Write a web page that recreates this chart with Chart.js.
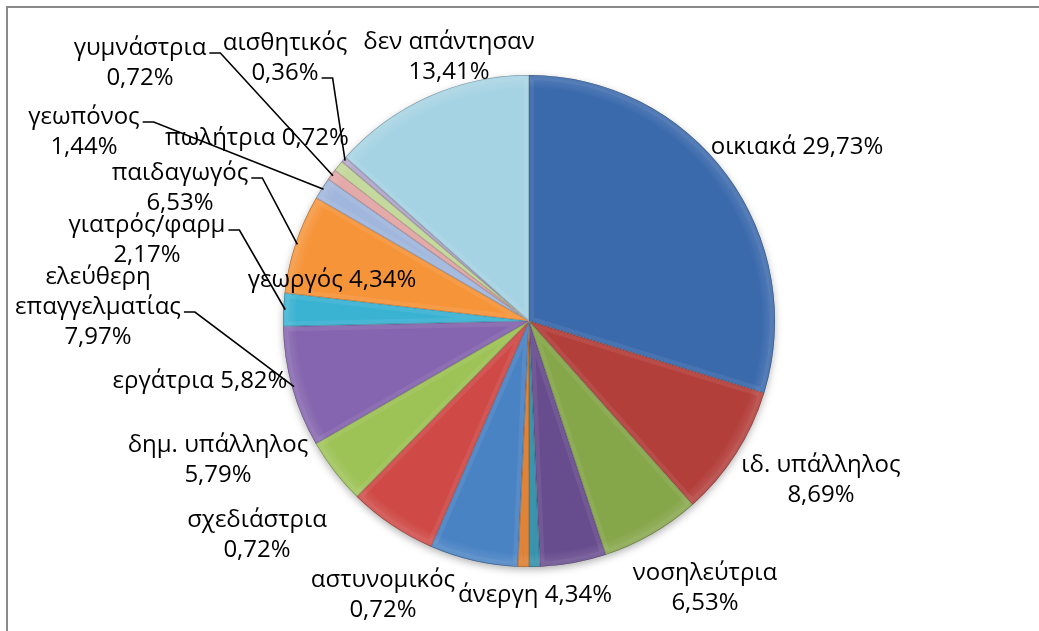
<!DOCTYPE html>
<html>
<head>
<meta charset="utf-8">
<script src="https://cdn.jsdelivr.net/npm/chart.js@4.4.0/dist/chart.umd.min.js"></script>
<style>
  html, body { margin: 0; padding: 0; background: #ffffff; }
  canvas { display: block; }
</style>
</head>
<body>
<canvas id="chart" width="1039" height="631"></canvas>
<script>
// Occupations, clockwise from 12 o'clock
const categories = [
  'οικιακά', 'ιδ. υπάλληλος', 'νοσηλεύτρια', 'άνεργη', 'αστυνομικός',
  'σχεδιάστρια', 'δημ. υπάλληλος', 'εργάτρια', 'γεωργός', 'ελεύθερη επαγγελματίας',
  'γιατρός/φαρμ', 'παιδαγωγός', 'γεωπόνος', 'γυμνάστρια', 'πωλήτρια',
  'αισθητικός', 'δεν απάντησαν'
];
// Share of respondents (%)
const percents = [
  29.73, 8.69, 6.53, 4.34, 0.72,
  0.72, 5.79, 5.82, 4.34, 7.97,
  2.17, 6.53, 1.44, 0.72, 0.72,
  0.36, 13.41
];

const sliceColors = [
  '#3A69AC', '#B33F3B', '#86A64A', '#684D8E', '#2D8CA7', '#DC7A28',
  '#4A83C4', '#CF4A46', '#9DC256', '#8565AF', '#3AB2D2', '#F6943A',
  '#A0B6DC', '#E2A4A3', '#C1D596', '#B2A5CB', '#A6D3E3'
];

// Label placement around the pie: offset of the first line's centre from the
// pie centre, how the text wraps (0 one line, 1 name / value, 2 every word / value)
// and which line carries a leader line (-1 none).
const labelLayout = [
  { dx: 268, dy: -174, wrap: 0, lead: -1 },
  { dx: 292, dy: 144, wrap: 1, lead: -1 },
  { dx: 176, dy: 252, wrap: 1, lead: -1 },
  { dx: 6, dy: 274, wrap: 0, lead: -1 },
  { dx: -146, dy: 259, wrap: 1, lead: -1 },
  { dx: -272, dy: 199, wrap: 1, lead: -1 },
  { dx: -311, dy: 124, wrap: 1, lead: -1 },
  { dx: -329, dy: 60, wrap: 0, lead: -1 },
  { dx: -197, dy: -41, wrap: 0, lead: -1 },
  { dx: -431, dy: -44, wrap: 2, lead: 1 },
  { dx: -382, dy: -96, wrap: 1, lead: 0 },
  { dx: -349, dy: -148, wrap: 1, lead: 0 },
  { dx: -445, dy: -204, wrap: 1, lead: 0 },
  { dx: -389, dy: -273, wrap: 1, lead: 0 },
  { dx: -272, dy: -183, wrap: 0, lead: -1 },
  { dx: -244, dy: -278, wrap: 1, lead: 1 },
  { dx: -80, dy: -279, wrap: 1, lead: -1 }
];

const LABEL_FONT = '24px "Open Sans", "Noto Sans", sans-serif';
const LINE_STEP = 30;

function fmtPct(v) {
  return v.toFixed(2).replace('.', ',') + '%';
}

function labelLines(i) {
  const name = categories[i];
  const pct = fmtPct(percents[i]);
  const mode = labelLayout[i].wrap;
  if (mode === 0) return [name + ' ' + pct];
  if (mode === 1) return [name, pct];
  return name.split(' ').concat([pct]);
}

// White background and the thin grey frame on the top and left edges
const framePlugin = {
  id: 'frame',
  beforeDraw(chart) {
    const ctx = chart.ctx;
    ctx.save();
    ctx.fillStyle = '#ffffff';
    ctx.fillRect(0, 0, chart.width, chart.height);
    ctx.strokeStyle = '#8a8a8a';
    ctx.lineWidth = 2;
    ctx.beginPath();
    ctx.moveTo(7, chart.height);
    ctx.lineTo(7, 7);
    ctx.lineTo(chart.width, 7);
    ctx.stroke();
    ctx.restore();
  }
};

// Soft drop shadow underneath the whole pie
const shadowPlugin = {
  id: 'pieShadow',
  beforeDatasetsDraw(chart) {
    const arc = chart.getDatasetMeta(0).data[0];
    if (!arc) return;
    const ctx = chart.ctx;
    ctx.save();
    ctx.shadowColor = 'rgba(0,0,0,0.35)';
    ctx.shadowBlur = 9;
    ctx.shadowOffsetY = 3;
    ctx.fillStyle = '#ffffff';
    ctx.beginPath();
    ctx.arc(arc.x, arc.y, arc.outerRadius - 1, 0, Math.PI * 2);
    ctx.fill();
    ctx.restore();
  }
};

// Bevelled look: faint light band inside each slice edge plus a thin dark crease
const bevelPlugin = {
  id: 'bevel',
  afterDatasetsDraw(chart) {
    const ctx = chart.ctx;
    chart.getDatasetMeta(0).data.forEach(arc => {
      const { x, y, startAngle, endAngle, outerRadius } = arc.getProps(
        ['x', 'y', 'startAngle', 'endAngle', 'outerRadius'], true);
      ctx.save();
      ctx.beginPath();
      ctx.moveTo(x, y);
      ctx.arc(x, y, outerRadius, startAngle, endAngle);
      ctx.closePath();
      ctx.clip();
      const g = ctx.createRadialGradient(x, y, outerRadius - 14, x, y, outerRadius);
      g.addColorStop(0, 'rgba(255,255,255,0)');
      g.addColorStop(0.6, 'rgba(255,255,255,0.09)');
      g.addColorStop(0.9, 'rgba(255,255,255,0.05)');
      g.addColorStop(1, 'rgba(0,0,0,0.15)');
      ctx.fillStyle = g;
      ctx.fillRect(x - outerRadius, y - outerRadius, outerRadius * 2, outerRadius * 2);
      ctx.lineJoin = 'round';
      ctx.strokeStyle = 'rgba(255,255,255,0.07)';
      ctx.lineWidth = 10;
      ctx.stroke();
      ctx.strokeStyle = 'rgba(0,0,0,0.22)';
      ctx.lineWidth = 1.2;
      ctx.stroke();
      ctx.restore();
    });
  }
};

// Data labels with elbow leader lines
const labelPlugin = {
  id: 'sliceLabels',
  afterDraw(chart) {
    const ctx = chart.ctx;
    const arcs = chart.getDatasetMeta(0).data;
    if (!arcs.length) return;
    const cx = arcs[0].x, cy = arcs[0].y;
    ctx.save();
    ctx.font = LABEL_FONT;
    ctx.fillStyle = '#000000';
    ctx.textAlign = 'center';
    ctx.textBaseline = 'middle';
    labelLayout.forEach((lay, i) => {
      const lines = labelLines(i);
      const lx = cx + lay.dx;
      const ly = cy + lay.dy;
      lines.forEach((t, k) => ctx.fillText(t, lx, ly + k * LINE_STEP));
      if (lay.lead >= 0) {
        const arc = arcs[i];
        const mid = (arc.startAngle + arc.endAngle) / 2;
        const r = arc.outerRadius - 2;
        const ex = arc.x + r * Math.cos(mid);
        const ey = arc.y + r * Math.sin(mid);
        const w = ctx.measureText(lines[lay.lead]).width;
        const sx = lx + w / 2 + 3;
        const sy = ly + lay.lead * LINE_STEP + 5;
        ctx.strokeStyle = '#000000';
        ctx.lineWidth = 1.6;
        ctx.beginPath();
        ctx.moveTo(sx, sy);
        ctx.lineTo(sx + 11, sy);
        ctx.lineTo(ex, ey);
        ctx.stroke();
      }
    });
    ctx.restore();
  }
};

new Chart(document.getElementById('chart').getContext('2d'), {
  type: 'pie',
  data: {
    labels: categories,
    datasets: [{
      data: percents,
      backgroundColor: sliceColors,
      borderWidth: 0
    }]
  },
  options: {
    responsive: false,
    animation: false,
    layout: { padding: { left: 283, right: 264, top: 75, bottom: 64 } },
    plugins: {
      legend: { display: false },
      tooltip: { enabled: false }
    }
  },
  plugins: [framePlugin, shadowPlugin, bevelPlugin, labelPlugin]
});
</script>
</body>
</html>
